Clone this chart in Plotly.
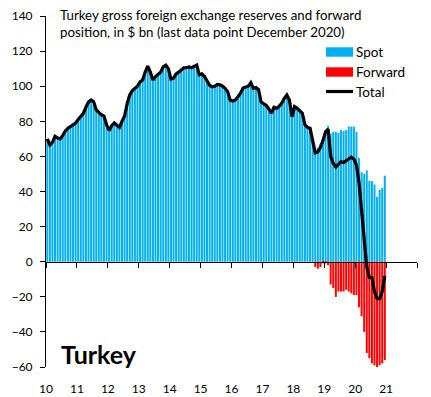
import plotly.graph_objects as go
import pandas as pd

# Months Jan 2010 .. Dec 2020
months = pd.date_range("2010-01-01", "2020-12-01", freq="MS")

# Spot reserves ($bn)
spot = [
    70, 66.5, 68, 71.4, 70.5, 70, 72, 74.5, 76, 77, 78, 79,
    81, 82.5, 84.5, 88, 91, 92.2, 91.2, 86.5, 85, 83.7, 83, 78,
    74.8, 77.5, 79, 78, 76.5, 80, 83, 90, 95, 97.5, 98.5, 100,
    102.5, 103.5, 108, 111.5, 108, 103.5, 105.5, 107, 108, 111, 112, 110,
    104, 104.5, 107, 108, 109.5, 110.5, 110.5, 111, 110.5, 111.5, 112, 106.5,
    107, 105.5, 103, 100.5, 99.7, 100, 101, 100.8, 100, 98.8, 96.9, 92,
    91.5, 92.2, 94, 96, 99, 99.7, 100, 102, 98.8, 99.2, 98, 91,
    90, 89, 87, 84.6, 88, 87.4, 88.5, 90.3, 93, 95, 92, 82.6,
    88.4, 87.5, 86, 84.6, 78, 76.5, 76, 69, 64, 65, 67, 70,
    75, 77.5, 73, 74, 74, 73.5, 75, 74.5, 75, 77, 77, 77,
    74, 59, 51, 50, 52, 46, 46, 44, 37, 41, 42, 49,
]

# Forward position ($bn)
forward = [0] * 104 + [
    -3, -4, -3, -1, -1, -2, -13, -15, -20, -17, -17, -17,
    -16, -17, -18, -19, -19, -26, -31, -40, -52, -55, -58, -59,
    -61, -59, -58, -56,
]

# Total (spot + forward) line
total = [
    70, 66.5, 68, 71.4, 70.5, 70, 72, 74.5, 76, 77, 78, 79,
    81, 82.5, 84.5, 88, 91, 92.2, 91.2, 86.5, 85, 83.7, 83, 78,
    74.8, 77.5, 79, 78, 76.5, 80, 83, 90, 95, 97.5, 98.5, 100,
    102.5, 103.5, 108, 111.5, 108, 103.5, 105.5, 107, 108, 111, 112, 110,
    104, 104.5, 107, 108, 109.5, 110.5, 110.5, 111, 110.5, 111.5, 112, 106.5,
    107, 105.5, 103, 100.5, 99.7, 100, 101, 100.8, 100, 98.8, 96.9, 92,
    91.5, 92.2, 94, 96, 99, 99.7, 100, 102, 98.8, 99.2, 98, 91,
    90, 89, 87, 84.6, 88, 87.4, 88.5, 90.3, 93, 95, 92, 82.6,
    88.4, 87.5, 86, 84.6, 78, 76.5, 76, 69, 62, 62.5, 65, 69,
    74, 75.5, 60, 56, 54, 55.5, 57, 56.5, 57.5, 58.5, 59.5, 58.5,
    55, 45, 30, 12, -3, -9, -9, -17, -21, -21, -17, -8,
]

tick_years = list(range(2010, 2023))
tick_labels = [str(y % 100) for y in range(2010, 2022)] + [""]
series_names = ["Spot", "Forward", "Total"]
series_colors = ["#00B0F0", "#FF0000", "black"]

# month centre as fractional year
xpos = [d.year + (d.month - 0.5) / 12 for d in months]

FONT = "Lato"

fig = go.Figure()
fig.add_trace(go.Bar(x=xpos, y=spot, name=series_names[0],
                     marker_color=series_colors[0], marker_line_width=0,
                     width=1 / 12 * 0.78, showlegend=False))
fig.add_trace(go.Bar(x=xpos, y=forward, name=series_names[1],
                     marker_color=series_colors[1], marker_line_width=0,
                     width=1 / 12 * 0.78, showlegend=False))
fig.add_trace(go.Scatter(x=xpos, y=total, name=series_names[2], mode="lines",
                         line=dict(color=series_colors[2], width=3.2),
                         showlegend=False))

# the page has an 8px body margin, so the figure is shrunk by that amount
PLOT_TOP, PLOT_BOTTOM = 16, 367  # page pixels of the plot area
fig.update_layout(
    width=423, height=389,
    margin=dict(l=38, r=14, t=8, b=30, autoexpand=False),
    barmode="relative",
    paper_bgcolor="white", plot_bgcolor="white",
    font=dict(family=FONT, size=12, color="black"),
    xaxis=dict(range=[2010, 2022], tickvals=tick_years, ticktext=tick_labels,
               showline=False, ticks="", showgrid=False, zeroline=False,
               tickfont=dict(size=12), ticklabelstandoff=13, automargin=False),
    xaxis2=dict(range=[2010, 2022], matches="x", overlaying="x", anchor="free",
                position=0.3, side="bottom", tickvals=tick_years,
                showticklabels=False, showline=True, linecolor="black",
                linewidth=1, ticks="outside", ticklen=5, tickcolor="black",
                showgrid=False, zeroline=False, automargin=False),
    yaxis=dict(range=[-60, 140], tickvals=list(range(-60, 141, 20)),
               showline=True, linecolor="black", linewidth=1,
               ticks="outside", ticklen=5, tickcolor="black",
               showgrid=False, zeroline=False, tickfont=dict(size=12),
               ticklabelstandoff=5, automargin=False),
)

# invisible trace to register the zero-line axis
fig.add_trace(go.Scatter(x=[2010], y=[0], xaxis="x2", mode="markers",
                         marker=dict(opacity=0), showlegend=False,
                         hoverinfo="skip"))


def px_x(px):
    return (px - 46) / 371


def px_y(py):
    return (PLOT_BOTTOM - py) / (PLOT_BOTTOM - PLOT_TOP)


# custom legend
leg_rows = [52, 72, 91.5]
for name, color, yc in zip(series_names, series_colors, leg_rows):
    if name == "Total":
        fig.add_shape(type="line", xref="paper", yref="paper",
                      x0=px_x(326), x1=px_x(353), y0=px_y(yc), y1=px_y(yc),
                      line=dict(color=color, width=3.2))
    else:
        fig.add_shape(type="rect", xref="paper", yref="paper",
                      x0=px_x(326), x1=px_x(353), y0=px_y(yc + 4.7),
                      y1=px_y(yc - 4.7), fillcolor=color, line_width=0)
    fig.add_annotation(xref="paper", yref="paper", x=px_x(354), y=px_y(yc),
                       xanchor="left", yanchor="middle", text=name,
                       showarrow=False, font=dict(size=13.5, family=FONT))

fig.add_annotation(xref="paper", yref="paper", x=px_x(58), y=px_y(5),
                   xanchor="left", yanchor="top", align="left",
                   text="Turkey gross foreign exchange reserves and forward<br>position, in $ bn (last data point December 2020)",
                   showarrow=False, font=dict(size=13.3, family=FONT))
fig.add_annotation(xref="paper", yref="paper", x=px_x(59), y=px_y(354),
                   xanchor="left", yanchor="middle",
                   text="<b>Turkey</b>", showarrow=False,
                   font=dict(size=25, family=FONT))

fig.write_html("out.html")
